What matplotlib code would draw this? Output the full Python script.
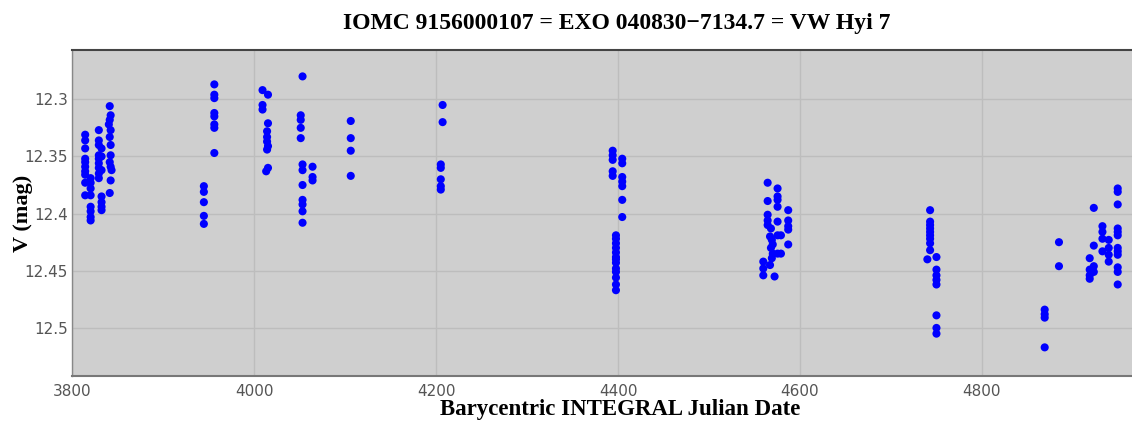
import numpy as np
import matplotlib.pyplot as plt

# Light curve points (date, V mag)
dates = [
    3814, 3814, 3814, 3814, 3814, 3814, 3814, 3814, 3814, 3814,
    3820, 3820, 3820, 3820, 3820, 3820, 3820, 3820,
    3829, 3829, 3829, 3829, 3829, 3829, 3829, 3829, 3829,
    3832, 3832, 3832, 3832, 3832, 3832, 3832,
    3841, 3842, 3841, 3840, 3842, 3841, 3842, 3842, 3841, 3842, 3843, 3842, 3841,
    3944.5, 3944.5, 3944.5, 3944.5, 3944.5,
    3956, 3956, 3956, 3956, 3956, 3956, 3956, 3956,
    4009, 4015, 4009, 4009, 4015, 4014, 4014, 4014, 4015, 4014, 4015, 4013,
    4053, 4051, 4051, 4051, 4051, 4053, 4053, 4053, 4053, 4053, 4053, 4053,
    4064, 4064, 4064,
    4106, 4106, 4106, 4106,
    4207, 4207, 4205, 4205, 4205, 4205, 4205,
    4394, 4394, 4394, 4394, 4394,
    4397.6, 4397.6, 4397.6, 4397.6, 4397.6, 4397.6, 4397.6, 4397.6, 4397.6,
    4397.6, 4397.6, 4397.6, 4397.6,
    4404.5, 4404.5, 4404.5, 4404.5, 4404.5, 4404.5, 4404.5,
    4564.4, 4564.4, 4564.4, 4564.4, 4564.4,
    4559.6, 4559.6, 4559.6,
    4568, 4567, 4569, 4570, 4568, 4570, 4569, 4567,
    4572,
    4575.3, 4575.3, 4575.3, 4575.3, 4575.3, 4575.3, 4575.3,
    4579, 4579,
    4587, 4587, 4587, 4587, 4587,
    4743, 4743, 4743, 4743, 4743, 4743, 4743, 4743, 4743,
    4740,
    4750, 4750, 4750, 4750, 4750, 4750, 4750, 4750,
    4869, 4869, 4869, 4869,
    4884.7, 4884.7,
    4918.5, 4918.5, 4918.5, 4918.5,
    4923, 4923, 4923, 4923,
    4932.5, 4932.5, 4932.5, 4932.5,
    4939.4, 4939.4, 4939.4, 4939.4,
    4949.3, 4949.3, 4949.3, 4949.3, 4949.3, 4949.3, 4949.3, 4949.3, 4949.3,
    4949.3, 4949.3, 4949.3,
]
vmag = [
    12.331, 12.336, 12.343, 12.352, 12.355, 12.359, 12.363, 12.366, 12.373, 12.384,
    12.369, 12.373, 12.378, 12.384, 12.394, 12.398, 12.403, 12.406,
    12.327, 12.336, 12.340, 12.349, 12.352, 12.356, 12.360, 12.365, 12.369,
    12.343, 12.350, 12.362, 12.385, 12.390, 12.394, 12.397,
    12.306, 12.314, 12.318, 12.322, 12.327, 12.333, 12.340, 12.349, 12.355, 12.359, 12.362, 12.371, 12.382,
    12.376, 12.381, 12.390, 12.402, 12.409,
    12.287, 12.296, 12.299, 12.312, 12.315, 12.322, 12.325, 12.347,
    12.292, 12.296, 12.305, 12.309, 12.321, 12.328, 12.333, 12.337, 12.341, 12.344, 12.360, 12.363,
    12.280, 12.314, 12.318, 12.325, 12.334, 12.357, 12.362, 12.375, 12.388, 12.392, 12.398, 12.408,
    12.359, 12.368, 12.371,
    12.319, 12.334, 12.345, 12.367,
    12.305, 12.320, 12.357, 12.360, 12.370, 12.376, 12.379,
    12.345, 12.349, 12.353, 12.363, 12.367,
    12.419, 12.422, 12.426, 12.430, 12.434, 12.438, 12.440, 12.443, 12.448,
    12.451, 12.456, 12.462, 12.467,
    12.352, 12.356, 12.368, 12.372, 12.376, 12.388, 12.403,
    12.373, 12.389, 12.401, 12.406, 12.410,
    12.442, 12.448, 12.454,
    12.413, 12.420, 12.423, 12.427, 12.430, 12.435, 12.439, 12.445,
    12.455,
    12.378, 12.385, 12.388, 12.394, 12.407, 12.419, 12.435,
    12.419, 12.435,
    12.397, 12.406, 12.411, 12.414, 12.427,
    12.397, 12.407, 12.410, 12.413, 12.416, 12.419, 12.422, 12.426, 12.432,
    12.440,
    12.438, 12.449, 12.454, 12.458, 12.462, 12.489, 12.500, 12.505,
    12.484, 12.488, 12.491, 12.517,
    12.425, 12.446,
    12.439, 12.449, 12.454, 12.457,
    12.395, 12.428, 12.446, 12.451,
    12.411, 12.416, 12.422, 12.433,
    12.423, 12.430, 12.436, 12.442,
    12.378, 12.381, 12.392, 12.413, 12.416, 12.419, 12.430, 12.433, 12.436,
    12.447, 12.451, 12.462,
]

x_ticks = [3800, 4000, 4200, 4400, 4600, 4800]
y_ticks = [12.3, 12.35, 12.4, 12.45, 12.5]
y_tick_labels = ['12.3', '12.35', '12.4', '12.45', '12.5']

fig = plt.figure(figsize=(11.32, 4.21), dpi=100)
ax = fig.add_axes([0.064, 0.107, 0.936, 0.774])
ax.set_facecolor('#cfcfcf')

ax.scatter(dates, vmag, s=34, color='#0000ff', edgecolors='none', zorder=3)

ax.set_xlim(3800, 4965)
ax.set_ylim(12.542, 12.257)
ax.set_xticks(x_ticks)
ax.set_yticks(y_ticks)
ax.set_yticklabels(y_tick_labels)
ax.grid(True, color='#bdbdbd', linewidth=1.0, zorder=0)
ax.tick_params(length=0, labelsize=11, labelcolor='#555555')
ax.tick_params(axis='x', pad=6)
ax.tick_params(axis='y', pad=3.3)

ax.spines['right'].set_visible(False)
ax.spines['top'].set_color('#444444')
ax.spines['top'].set_linewidth(1.5)
ax.spines['bottom'].set_color('#777777')
ax.spines['bottom'].set_linewidth(1.5)
ax.spines['left'].set_color('#888888')
ax.spines['left'].set_linewidth(1.0)

serif = dict(family='Liberation Serif', weight='bold')
ax.set_xlabel('Barycentric INTEGRAL Julian Date', fontsize=16.5, labelpad=1, **serif)
ax.xaxis.set_label_coords(0.517, -0.07)
ax.set_ylabel('V (mag)', fontsize=16, **serif)
ax.yaxis.set_label_coords(-0.037, 0.5)
fig.text(0.545, 0.945, 'IOMC 9156000107 = EXO 040830\u22127134.7 = VW Hyi 7',
         ha='center', va='center', fontsize=17, **serif)

fig.savefig('out.png', dpi=100)
